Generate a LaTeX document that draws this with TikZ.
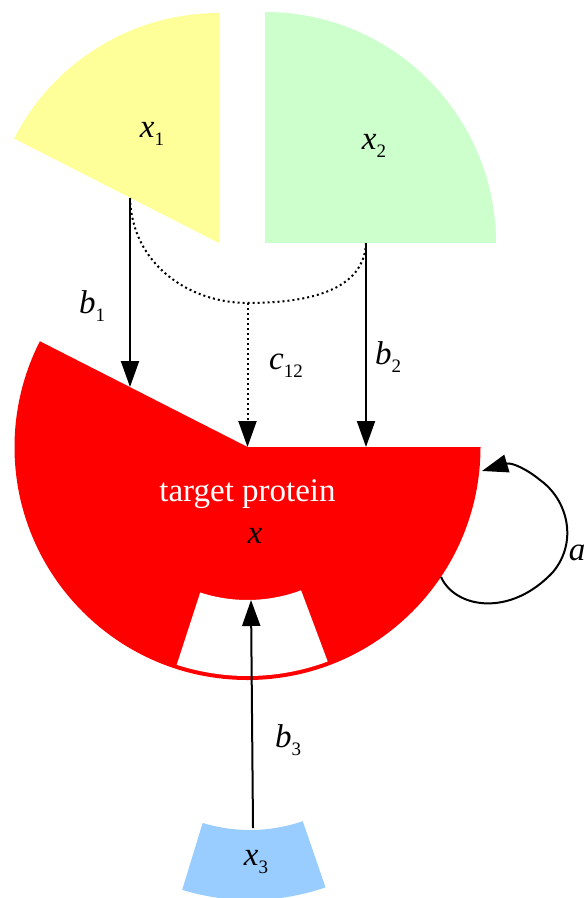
\documentclass[tikz,border=0pt]{standalone}
\usepackage{fontspec}
\setmainfont{Liberation Serif}
\usepackage{tikz}
\usetikzlibrary{arrows.meta}
\definecolor{xoneyellow}{HTML}{FFFF99}
\definecolor{xtwogreen}{HTML}{CCFFCC}
\definecolor{xthreeblue}{HTML}{99CCFF}
\definecolor{targetred}{HTML}{FF0000}
\newcommand{\varsub}[2]{\textit{#1}\raisebox{-4pt}{\fontsize{9.5}{10}\selectfont #2}}

\begin{document}
\begin{tikzpicture}[
        x=0.5pt, y=0.5pt,
        lbl/.style={
            font=\fontsize{16.5}{18}\selectfont,
            inner sep=0pt
        },
        arrow/.style={-{Triangle[length=13pt, width=9pt]}, line width=1pt, draw=black},
        dotcurve/.style={line width=1pt, dash pattern=on 1pt off 1.5pt},
        dotarrow/.style={arrow, dash pattern=on 1pt off 1.5pt}
    ]
        \useasboundingbox (0,0) rectangle (587,-898);

        \coordinate (xonec) at (219,-243);
        \coordinate (xtwoc) at (265,-243);
        \coordinate (xc) at (247.5,-447);
        \coordinate (xthreec) at (250,-668);

        \fill[xoneyellow] (xonec) -- ++(0,230) arc[start angle=90, end angle=153, radius=230] -- cycle;
        \fill[xtwogreen] (xtwoc) -- ++(231,0) arc[start angle=0, end angle=90, radius=231] -- cycle;
        \fill[targetred] (xc) -- ++(233,0) arc[start angle=0, end angle=-207, radius=233] -- cycle;
        \fill[white] ([shift={(252:153)}]xc) arc[start angle=252, end angle=290.5, radius=153]
            -- ([shift={(290.5:229)}]xc) arc[start angle=290.5, end angle=252, radius=229] -- cycle;
        \fill[xthreeblue] ([shift={(253:162)}]xthreec) arc[start angle=253, end angle=289, radius=162]
            -- ([shift={(289:232)}]xthreec) arc[start angle=289, end angle=253, radius=232] -- cycle;

        \node[lbl] (xone) at (152,-134) {\varsub{x}{1}};
        \node[lbl] (xtwo) at (374,-146) {\varsub{x}{2}};
        \node[lbl, text=white] (target) at (247.5,-494) {target protein};
        \node[lbl] (xvar) at (255,-536) {\textit{x}};
        \node[lbl] (xthree) at (256,-862) {\varsub{x}{3}};

        \node[lbl] (bone) at (92,-306) {\varsub{b}{1}};
        \node[lbl] (ctwelve) at (286,-366) {\varsub{c}{12}};
        \node[lbl] (btwo) at (388,-357) {\varsub{b}{2}};
        \node[lbl] (bthree) at (288,-740) {\varsub{b}{3}};
        \node[lbl] (aself) at (577,-553) {\textit{a}};

        \coordinate (xoneout) at (130,-198);
        \coordinate (xtwoout) at (366,-243);
        \coordinate (bonein) at (130,-387);
        \coordinate (btwoin) at (366,-447);
        \coordinate (cjoin) at (247.5,-303);
        \coordinate (xthreeout) at (253,-828);
        \coordinate (xin) at (251,-600);
        \coordinate (aout) at (441,-577);
        \coordinate (ain) at (482,-471);

        \draw[arrow] (xoneout) -- (bonein);
        \draw[arrow] (xtwoout) -- (btwoin);
        \draw[dotcurve] (xoneout) .. controls (132,-265) and (190,-303) .. (cjoin)
            .. controls (310,-303) and (364,-290) .. (xtwoout);
        \draw[dotarrow] (cjoin) -- (xc);
        \draw[arrow] (xthreeout) -- (xin);
        \draw[arrow] (aout) .. controls (455,-608) and (510,-618) .. (553,-572)
            .. controls (578,-542) and (568,-500) .. (540,-480)
            .. controls (528,-470) and (512,-462) .. (ain);
    \end{tikzpicture}
\end{document}
